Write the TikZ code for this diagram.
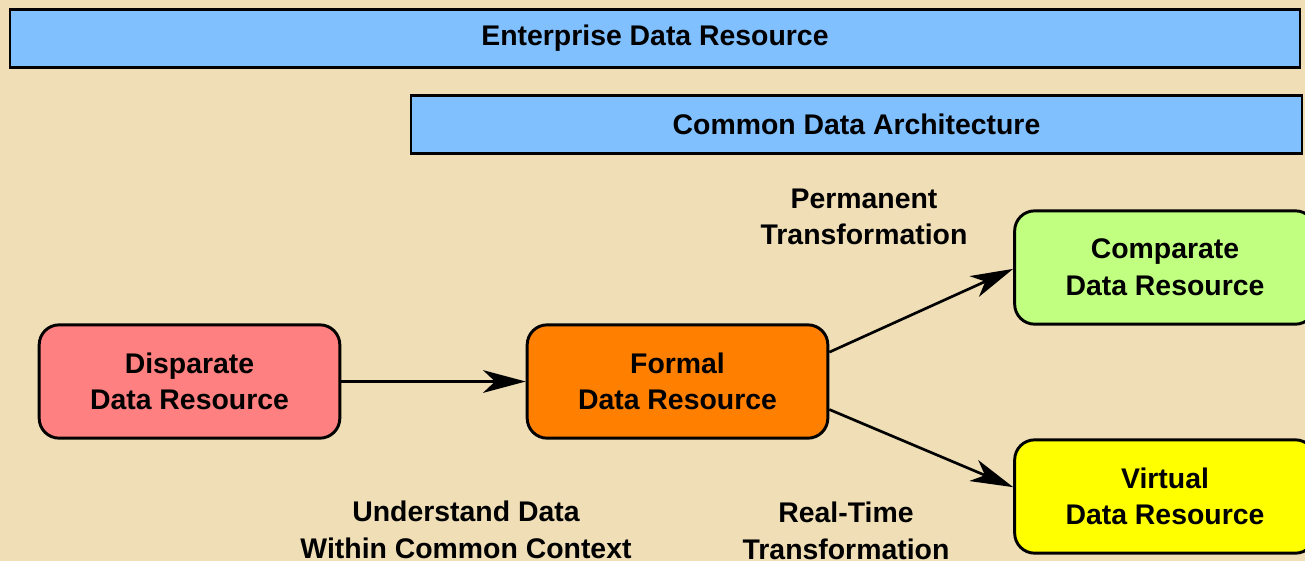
\documentclass[tikz,border=0pt]{standalone}
\usepackage{fontspec}
\setmainfont{Liberation Sans}
\usetikzlibrary{arrows.meta}
\definecolor{paper}{RGB}{239,222,182}
\definecolor{barblue}{RGB}{128,192,255}
\definecolor{pinkbox}{RGB}{255,128,128}
\definecolor{orangebox}{RGB}{255,128,0}
\definecolor{greenbox}{RGB}{192,255,128}
\definecolor{yellowbox}{RGB}{255,255,0}

\begin{document}
\begin{tikzpicture}[x=0.75pt,y=-0.75pt,
  txt/.style={font=\fontsize{21.3}{27.5}\selectfont\bfseries,align=center,inner sep=0pt},
  bar/.style={txt,draw=black,line width=2.2pt,fill=barblue,minimum height=43pt},
  resbox/.style={txt,draw=black,line width=2.2pt,rounded corners=15pt,minimum width=225.5pt,minimum height=85pt},
  flow/.style={line width=2pt,-{Stealth[length=32pt,width=17pt,inset=9pt]}}]
\useasboundingbox (0,0) rectangle (1305,561);
\clip (0,0) rectangle (1305,561);
\fill[paper] (0,0) rectangle (1305,561);
\node[bar,minimum width=967.5pt] (enterprise) at (655,38.5) {Enterprise Data Resource};
\node[bar,minimum width=668.25pt] (common) at (856.5,124.5) {Common Data Architecture};
\node[resbox,fill=pinkbox] (disparate) at (189.5,381.5) {Disparate\\Data Resource};
\node[resbox,fill=orangebox] (formal) at (677.5,381.5) {Formal\\Data Resource};
\node[resbox,fill=greenbox] (comparate) at (1165,267.5) {Comparate\\Data Resource};
\node[resbox,fill=yellowbox] (virtual) at (1165,496.5) {Virtual\\Data Resource};
\node[txt] (permanent) at (864,217) {Permanent\\Transformation};
\node[txt] (realtime) at (846,531) {Real-Time\\Transformation};
\node[txt] (understand) at (466,530) {Understand Data\\Within Common Context};
\draw[flow] (disparate.east) -- (formal.west);
\draw[flow] ([yshift=22pt]formal.east) -- ([yshift=-1pt]comparate.west);
\draw[flow] ([yshift=-21pt]formal.east) -- ([yshift=7pt]virtual.west);
\end{tikzpicture}
\end{document}
